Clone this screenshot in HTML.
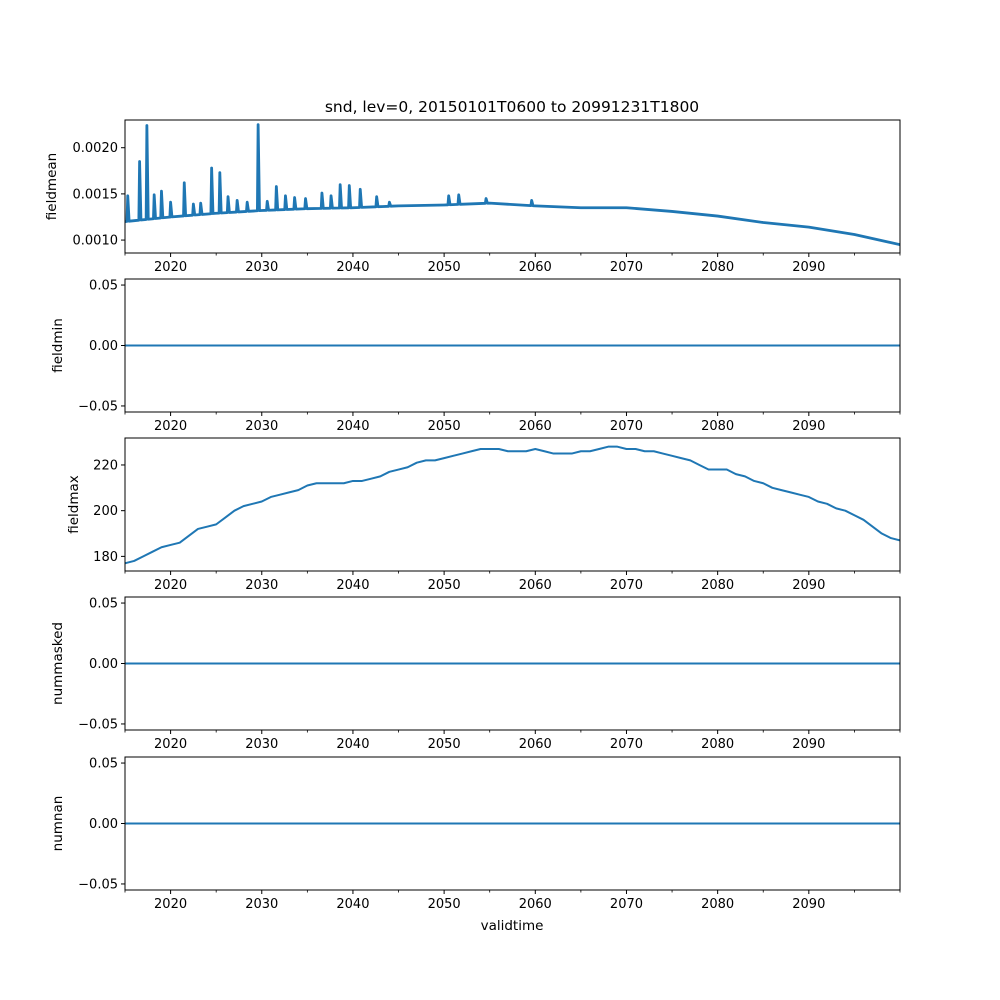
<!DOCTYPE html>
<html><head><meta charset="utf-8">
<style>
body{margin:0;background:#fff;}
svg{display:block;font-family:"DejaVu Sans","Liberation Sans",sans-serif;}
</style></head>
<body>
<svg id="fig" width="1000" height="1000" viewBox="0 0 1000 1000" xmlns="http://www.w3.org/2000/svg">
<rect width="1000" height="1000" fill="#fff"/>
<text x="512" y="112" font-size="15.5" text-anchor="middle">snd, lev=0, 20150101T0600 to 20991231T1800</text>
<text x="512" y="930" font-size="13.5" text-anchor="middle">validtime</text>
</svg>
<script>
const xTickYears = [2020, 2030, 2040, 2050, 2060, 2070, 2080, 2090];
const xMinorYears = [2015, 2025, 2035, 2045, 2055, 2065, 2075, 2085, 2095, 2100];
const meanYears = [2015,2020,2025,2030,2035,2040,2045,2050,2055,2060,2065,2070,2075,2080,2085,2090,2095,2100];
const meanBase = [0.00120,0.00125,0.00129,0.00132,0.00134,0.00135,0.00137,0.00138,0.00140,0.00137,0.00135,0.00135,0.00131,0.00126,0.00119,0.00114,0.00106,0.00095];
const spikeYears = [2015.3,2016.6,2017.4,2018.2,2019.0,2020.0,2021.5,2022.5,2023.3,2024.5,2025.4,2026.3,2027.3,2028.4,2029.6,2030.6,2031.6,2032.6,2033.6,2034.8,2036.6,2037.6,2038.6,2039.6,2040.8,2042.6,2044.0,2050.5,2051.6,2054.6,2059.6];
const spikeVals = [0.00148,0.00185,0.00224,0.00149,0.00153,0.00141,0.00162,0.00139,0.00140,0.00178,0.00173,0.00147,0.00143,0.00141,0.00225,0.00142,0.00158,0.00148,0.00146,0.00145,0.00151,0.00148,0.00160,0.00159,0.00155,0.00147,0.00141,0.00148,0.00149,0.00145,0.00143];
const maxYears = [2015,2016,2017,2018,2019,2020,2021,2022,2023,2024,2025,2026,2027,2028,2029,2030,2031,2032,2033,2034,2035,2036,2037,2038,2039,2040,2041,2042,2043,2044,2045,2046,2047,2048,2049,2050,2051,2052,2053,2054,2055,2056,2057,2058,2059,2060,2061,2062,2063,2064,2065,2066,2067,2068,2069,2070,2071,2072,2073,2074,2075,2076,2077,2078,2079,2080,2081,2082,2083,2084,2085,2086,2087,2088,2089,2090,2091,2092,2093,2094,2095,2096,2097,2098,2099,2100];
const maxVals = [177,178,180,182,184,185,186,189,192,193,194,197,200,202,203,204,206,207,208,209,211,212,212,212,212,213,213,214,215,217,218,219,221,222,222,223,224,225,226,227,227,227,226,226,226,227,226,225,225,225,226,226,227,228,228,227,227,226,226,225,224,223,222,220,218,218,218,216,215,213,212,210,209,208,207,206,204,203,201,200,198,196,193,190,188,187];
const zeroYears = [2015, 2100];
const zeroVals = [0, 0];
const meanTicks = [0.0010, 0.0015, 0.0020];
const meanTickLabels = ["0.0010","0.0015","0.0020"];
const zeroTicks = [-0.05, 0, 0.05];
const zeroTickLabels = ["\u22120.05","0.00","0.05"];
const maxTicks = [180, 200, 220];
const maxTickLabels = ["180","200","220"];

const NS = "http://www.w3.org/2000/svg";
const svg = document.getElementById('fig');
const L = 125, R = 900;
const xs = y => L + (y - 2015) / (2100 - 2015) * (R - L);
function mk(tag, attrs, parent){ const e = document.createElementNS(NS, tag); for (const k in attrs) e.setAttribute(k, attrs[k]); (parent||svg).appendChild(e); return e; }

const panels = [
 {name:'fieldmean', top:120, bot:253, ymin:0.00086, ymax:0.00230, ticks:meanTicks, labels:meanTickLabels, lx:56},
 {name:'fieldmin', top:279, bot:412, ymin:-0.055, ymax:0.055, ticks:zeroTicks, labels:zeroTickLabels, lx:62},
 {name:'fieldmax', top:438, bot:571, ymin:173.6, ymax:231.8, ticks:maxTicks, labels:maxTickLabels, lx:78},
 {name:'nummasked', top:597, bot:730, ymin:-0.055, ymax:0.055, ticks:zeroTicks, labels:zeroTickLabels, lx:62},
 {name:'numnan', top:757, bot:890, ymin:-0.055, ymax:0.055, ticks:zeroTicks, labels:zeroTickLabels, lx:62}
];

panels.forEach(p => {
  const g = mk('g', {});
  
  
  const ys = v => p.bot - (v - p.ymin) / (p.ymax - p.ymin) * (p.bot - p.top);
  p.ys = ys;
  p.ticks.forEach((t, i) => {
    const yy = ys(t);
    const tk = mk('line', {x1:L-4, x2:L, y1:yy, y2:yy, stroke:'#000', 'stroke-width':1}, g);
    
    
    const tx = mk('text', {x:L-7, y:yy+4.5, 'font-size':13, 'text-anchor':'end'}, g);
    
    
    tx.textContent = p.labels[i];
  });
  xTickYears.forEach(yr => {
    const xx = xs(yr);
    const tk = mk('line', {x1:xx, x2:xx, y1:p.bot, y2:p.bot+4, stroke:'#000', 'stroke-width':1}, g);
    
    
    const tx = mk('text', {x:xx, y:p.bot+18, 'font-size':13, 'text-anchor':'middle'}, g);
    
    
    tx.textContent = yr;
  });
  xMinorYears.forEach(yr => {
    const xx = xs(yr);
    const tk = mk('line', {x1:xx, x2:xx, y1:p.bot, y2:p.bot+2.5, stroke:'#000', 'stroke-width':0.8}, g);
    
    
  });
  const yl = mk('text', {x:0, y:0, 'font-size':13.5, 'text-anchor':'middle', transform:`translate(${p.lx},${(p.top+p.bot)/2}) rotate(-90)`}, g);
  
  
  yl.textContent = p.name;
  p.g = g;
});

function drawLine(p, xArr, yArr, w, name){
  let d = '';
  xArr.forEach((x, i) => { d += (i ? 'L' : 'M') + xs(x).toFixed(2) + ',' + p.ys(yArr[i]).toFixed(2); });
  const path = mk('path', {d, fill:'none', stroke:'#1f77b4', 'stroke-width':w, 'stroke-linejoin':'round', 'clip-path':`url(#clip-${p.name})`}, p.g);
  
  
}

const defs = mk('defs', {});
panels.forEach(p => {
  const cp = mk('clipPath', {id:'clip-' + p.name}, defs);
  mk('rect', {x:L, y:p.top, width:R-L, height:p.bot-p.top}, cp);
});

function baseAt(yr){
  for (let i = 0; i < meanYears.length - 1; i++) {
    if (yr >= meanYears[i] && yr <= meanYears[i+1]) {
      const f = (yr - meanYears[i]) / (meanYears[i+1] - meanYears[i]);
      return meanBase[i] + f * (meanBase[i+1] - meanBase[i]);
    }
  }
  return meanBase[meanBase.length-1];
}
const mx = [], my = [];
let si = 0;
meanYears.forEach((yr, i) => {
  while (si < spikeYears.length && spikeYears[si] < yr) {
    const s = spikeYears[si];
    mx.push(s - 0.08, s, s + 0.15); my.push(baseAt(s - 0.08), spikeVals[si], baseAt(s + 0.15));
    si++;
  }
  mx.push(yr); my.push(meanBase[i]);
});
drawLine(panels[0], mx, my, 2.8, 'fieldmean-line');
drawLine(panels[1], zeroYears, zeroVals, 2, 'fieldmin-line');
drawLine(panels[2], maxYears, maxVals, 2, 'fieldmax-line');
drawLine(panels[3], zeroYears, zeroVals, 2, 'nummasked-line');
drawLine(panels[4], zeroYears, zeroVals, 2, 'numnan-line');

panels.forEach(p => {
  const fr = mk('rect', {x:L, y:p.top, width:R-L, height:p.bot-p.top, fill:'none', stroke:'#000', 'stroke-width':1}, p.g);
  
  
});
</script>
</body></html>
